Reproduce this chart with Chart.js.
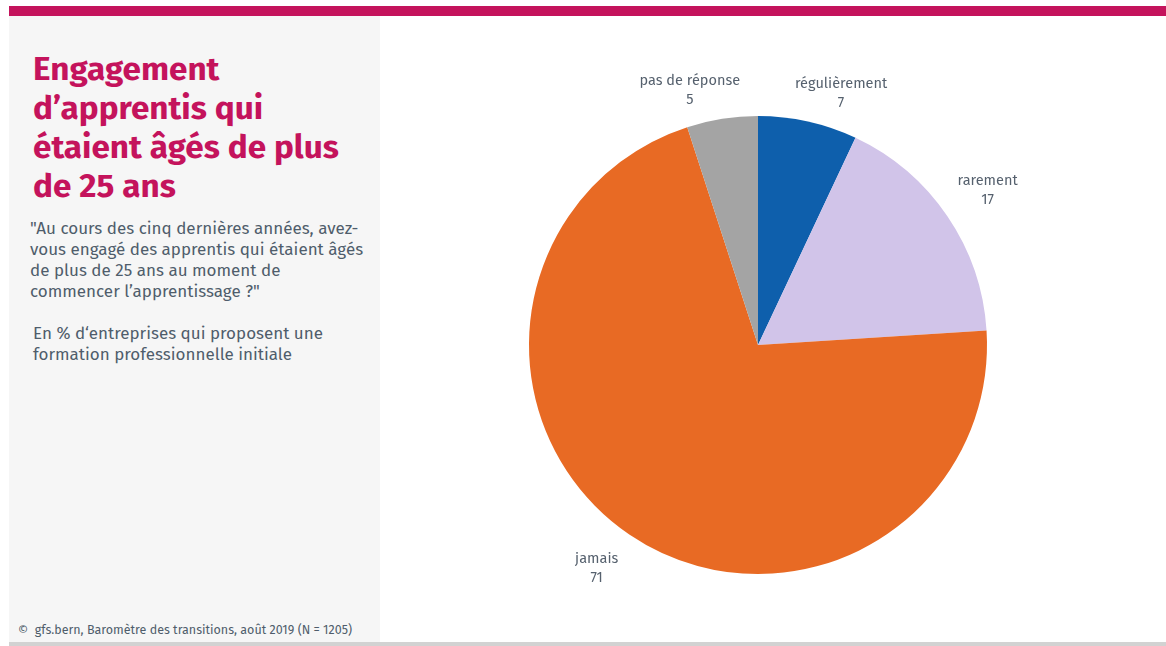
<!DOCTYPE html>
<html>
<head>
<meta charset="utf-8">
<script src="https://cdn.jsdelivr.net/npm/chart.js@4.4.1/dist/chart.umd.min.js"></script>
<style>
    body { margin: 0; width: 1166px; height: 646px; background: #fff; position: relative; overflow: hidden; font-family: "Fira Sans", "Noto Sans", sans-serif; }
    .topbar { position: absolute; left: 9px; top: 6px; width: 1157px; height: 10px; background: #c4135c; }
    .bottombar { position: absolute; left: 9px; top: 642px; width: 1157px; height: 4px; background: #d2d2d2; }
    .panel { position: absolute; left: 9px; top: 16px; width: 371px; height: 626px; background: #f6f6f6; }
    h1 { position: absolute; left: 33px; top: 50px; width: 318px; margin: 0; font-size: 33.3px; line-height: 39px; font-weight: bold; color: #c4135c; }
    .question { position: absolute; left: 30px; top: 218px; width: 340px; margin: 0; font-size: 17px; line-height: 21px; color: #4f5d6b; }
    .base { position: absolute; left: 33px; top: 323px; width: 305px; margin: 0; font-size: 17px; line-height: 21px; color: #4f5d6b; }
    .source { position: absolute; left: 18px; top: 622px; font-size: 12.5px; color: #4f5d6b; }
    .chart { position: absolute; left: 400px; top: 40px; width: 716px; height: 610px; }
</style>
</head>
<body>
<div class="topbar"></div>
<div class="panel"></div>
<div class="bottombar"></div>
<h1>Engagement d’apprentis qui étaient âgés de plus de 25 ans</h1>
<p class="question">"Au cours des cinq dernières années, avez-vous engagé des apprentis qui étaient âgés de plus de 25 ans au moment de commencer l’apprentissage ?"</p>
<p class="base">En % d‘entreprises qui proposent une formation professionnelle initiale</p>
<div class="source">©&nbsp; gfs.bern, Baromètre des transitions, août 2019 (N = 1205)</div>
<div class="chart"><canvas id="pie"></canvas></div>

<script>
const categories = ['régulièrement', 'rarement', 'jamais', 'pas de réponse'];
const shares = [7, 17, 71, 5];
const sliceColors = ['#0e5fac', '#d1c4e9', '#e86a24', '#a4a4a4'];

// labels outside the pie, name over value
const outsideLabels = {
    id: 'outsideLabels',
    afterDatasetsDraw(chart, args, opts) {
        const ctx = chart.ctx;
        const meta = chart.getDatasetMeta(0);
        ctx.save();
        ctx.font = '14.5px "Fira Sans", "Noto Sans", sans-serif';
        ctx.fillStyle = '#56616e';
        ctx.textAlign = 'center';
        ctx.textBaseline = 'middle';
        meta.data.forEach((arc, i) => {
            const p = arc.getProps(['x', 'y', 'startAngle', 'endAngle', 'outerRadius'], true);
            const mid = (p.startAngle + p.endAngle) / 2;
            const r = p.outerRadius + opts.offset[i];
            const x = p.x + Math.cos(mid) * r + opts.nudge[i];
            const y = p.y + Math.sin(mid) * r;
            ctx.fillText(chart.data.labels[i], x, y - 10);
            ctx.fillText(String(chart.data.datasets[0].data[i]), x, y + 9);
        });
        ctx.restore();
    }
};

new Chart(document.getElementById('pie').getContext('2d'), {
    type: 'pie',
    data: {
        labels: categories,
        datasets: [{
            data: shares,
            backgroundColor: sliceColors,
            borderWidth: 0
        }]
    },
    options: {
        responsive: true,
        maintainAspectRatio: false,
        animation: false,
        layout: { padding: { top: 76, bottom: 76, left: 129, right: 129 } },
        plugins: {
            legend: { display: false },
            tooltip: { enabled: false },
            outsideLabels: { offset: [28, 45, 42, 28], nudge: [27, 3, -9, -28] }
        }
    },
    plugins: [outsideLabels]
});
</script>
</body>
</html>
